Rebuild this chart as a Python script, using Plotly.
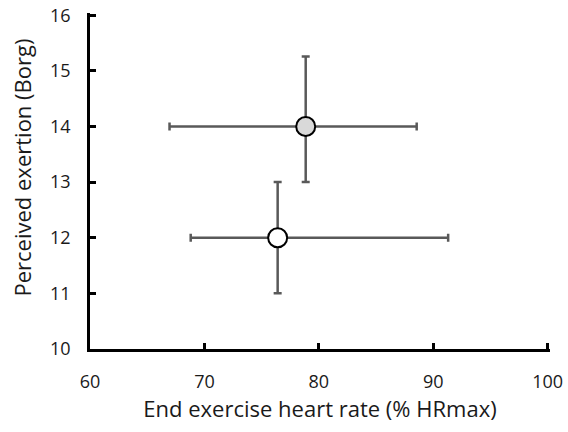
import plotly.graph_objects as go

# Data
hr_mean = [78.85, 76.4]
hr_plus = [9.7, 14.9]
hr_minus = [11.9, 7.6]
rpe_mean = [14.0, 12.0]
rpe_plus = [1.26, 1.0]
rpe_minus = [1.0, 1.0]
fills = ["#d9d9d9", "#ffffff"]
names = ["Group A", "Group B"]

x_ticks = [60, 70, 80, 90, 100]
y_ticks = [10, 11, 12, 13, 14, 15, 16]
x_title = "End exercise heart rate (% HRmax)"
y_title = "Perceived exertion (Borg)"

fig = go.Figure()
for i in range(len(hr_mean)):
    fig.add_trace(go.Scatter(
        x=[hr_mean[i]], y=[rpe_mean[i]], mode="markers", name=names[i],
        marker=dict(size=19, color=fills[i], line=dict(color="black", width=2)),
        error_x=dict(type="data", symmetric=False, array=[hr_plus[i]], arrayminus=[hr_minus[i]],
                     color="#595959", thickness=2.5, width=4),
        error_y=dict(type="data", symmetric=False, array=[rpe_plus[i]], arrayminus=[rpe_minus[i]],
                     color="#595959", thickness=2.5, width=4),
        cliponaxis=False,
    ))

fig.update_layout(
    width=568, height=432,
    margin=dict(l=90, r=18, t=13, b=83, autoexpand=False),
    paper_bgcolor="white", plot_bgcolor="white",
    showlegend=False,
    font=dict(family="Open Sans, sans-serif", size=18, color="#1a1a1a"),
)
# range ends padded a hair so the end ticks (16, 100) are still drawn
fig.update_xaxes(
    range=[60, 100.2], tickvals=x_ticks, ticktext=[str(v) for v in x_ticks],
    showgrid=False, zeroline=False, showline=True, linecolor="black", linewidth=2.5,
    ticks="inside", ticklen=6, tickwidth=2.5, tickcolor="black",
    title=dict(text=x_title, font=dict(size=22), standoff=3),
    ticklabelstandoff=15, automargin=False, ticklabeloverflow="allow",
)
fig.update_yaxes(
    range=[10, 16.04], tickvals=y_ticks, ticktext=[str(v) for v in y_ticks],
    showgrid=False, zeroline=False, showline=True, linecolor="black", linewidth=2.5,
    ticks="inside", ticklen=6, tickwidth=2.5, tickcolor="black",
    ticklabelstandoff=13, automargin=False, ticklabeloverflow="allow",
)
fig.add_annotation(
    text=y_title, xref="paper", yref="paper", x=-0.1479, y=0.54,
    xanchor="center", yanchor="middle", textangle=-90, showarrow=False,
    font=dict(size=22),
)

# remove the default 8px body margin so the figure fills the window exactly
fig.write_html("out.html", config={"displayModeBar": False},
               post_script="document.body.style.margin='0';")
